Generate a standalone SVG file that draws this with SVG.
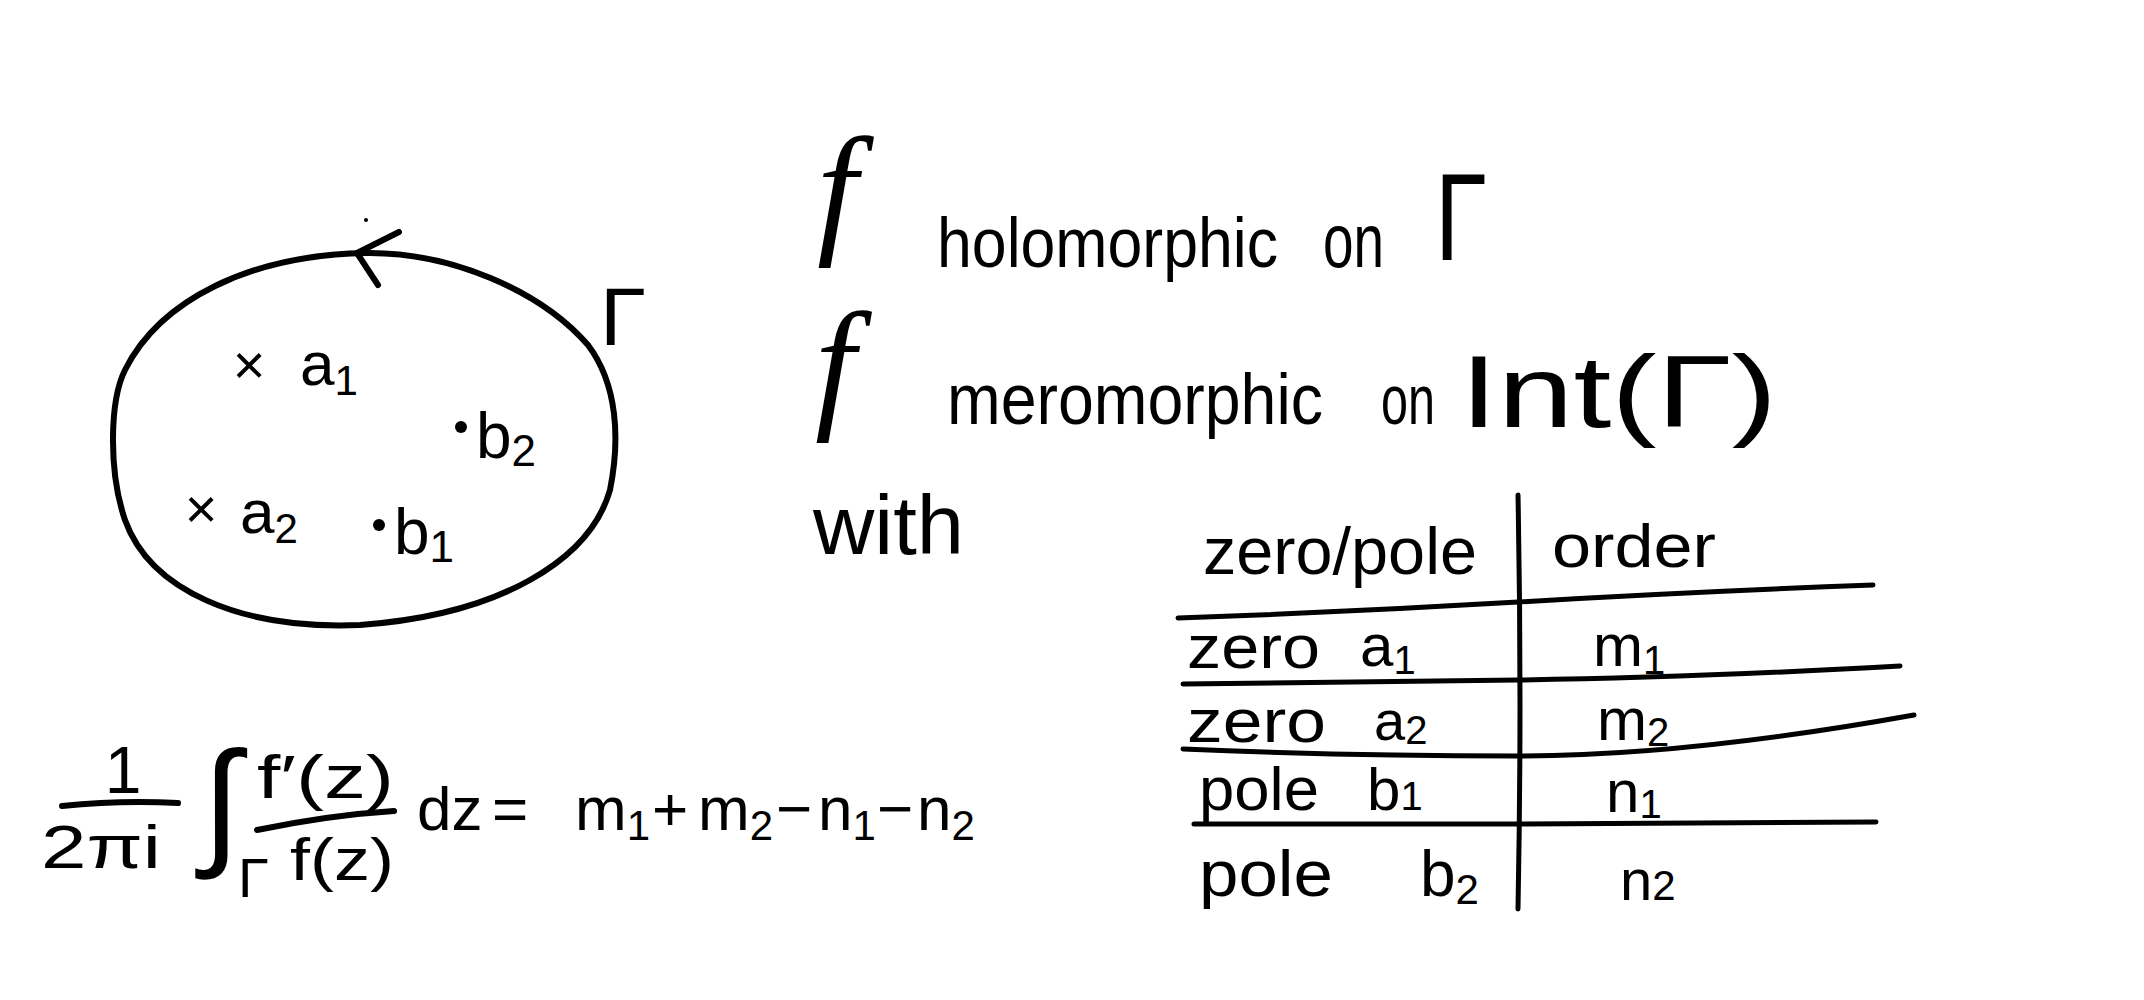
<svg xmlns="http://www.w3.org/2000/svg" width="2144" height="1000" viewBox="0 0 2144 1000">
<style>
.t{font-family:"Liberation Sans",Arial,sans-serif;fill:#000}
.fi{font-family:"Liberation Serif","Times New Roman",serif;font-style:italic;fill:#000}
.ln{fill:none;stroke:#000;stroke-width:6;stroke-linecap:round;stroke-linejoin:round}
.tl{fill:none;stroke:#000;stroke-width:5;stroke-linecap:round;stroke-linejoin:round}
</style>
<rect width="2144" height="1000" fill="#fff"/>
<g id="contour">
<path class="ln" d="M366,253 C450,252 540,290 588,345 C618,385 620,440 610,490 C590,560 500,615 360,625 C240,630 150,590 125,520 C108,470 110,400 125,370 C160,300 250,255 366,253 Z"/>
<path class="ln" d="M399,232 L357,253 L378,285"/>
<circle cx="366" cy="220" r="2" fill="#000"/>
<text class="t" x="600" y="345" font-size="82" textLength="46" lengthAdjust="spacingAndGlyphs">Γ</text>
</g>
<g id="point-a1">
<text class="t" x="249" y="384" font-size="56" text-anchor="middle">×</text>
<text class="t" x="300" y="385" font-size="62">a<tspan font-size="42" dy="10">1</tspan></text>
</g>
<g id="point-b2">
<circle cx="461" cy="427" r="6" fill="#000"/>
<text class="t" x="476" y="458" font-size="64">b<tspan font-size="44" dy="8">2</tspan></text>
</g>
<g id="point-a2">
<text class="t" x="201" y="528" font-size="56" text-anchor="middle">×</text>
<text class="t" x="240" y="533" font-size="62">a<tspan font-size="42" dy="10">2</tspan></text>
</g>
<g id="point-b1">
<circle cx="379" cy="525" r="6" fill="#000"/>
<text class="t" x="394" y="554" font-size="64">b<tspan font-size="44" dy="8">1</tspan></text>
</g>
<g id="line-holomorphic">
<text class="fi" x="817" y="237" font-size="145">f</text>
<text class="t" x="937" y="267" font-size="70" textLength="341" lengthAdjust="spacingAndGlyphs">holomorphic</text>
<text class="t" x="1323" y="267" font-size="76" textLength="61" lengthAdjust="spacingAndGlyphs">on</text>
<text class="t" x="1435" y="260" font-size="124" textLength="52" lengthAdjust="spacingAndGlyphs">Γ</text>
</g>
<g id="line-meromorphic">
<text class="fi" x="815" y="412" font-size="145">f</text>
<text class="t" x="947" y="424" font-size="72" textLength="376" lengthAdjust="spacingAndGlyphs">meromorphic</text>
<text class="t" x="1381" y="424" font-size="70" textLength="54" lengthAdjust="spacingAndGlyphs">on</text>
<text class="t" x="1460" y="427" font-size="102" textLength="317" lengthAdjust="spacingAndGlyphs">Int(Γ)</text>
</g>
<g id="line-with">
<text class="t" x="813" y="554" font-size="84" textLength="151" lengthAdjust="spacingAndGlyphs">with</text>
</g>
<g id="table">
<g id="table-lines">
<path class="tl" d="M1518,495 Q1522,700 1518,909"/>
<path class="tl" d="M1178,618 Q1350,612 1518,602 T1873,585"/>
<path class="tl" d="M1183,684 Q1350,682 1518,680 T1900,666"/>
<path class="tl" d="M1183,749 Q1350,756 1518,756 T1914,715"/>
<path class="tl" d="M1194,824 L1518,824 L1876,822"/>
</g>
<g id="row-header">
<text class="t" x="1203" y="574" font-size="66" textLength="274" lengthAdjust="spacingAndGlyphs">zero/pole</text>
<text class="t" x="1552" y="567" font-size="62" textLength="164" lengthAdjust="spacingAndGlyphs">order</text>
</g>
<g id="row-a1">
<text class="t" x="1187" y="668" font-size="62" textLength="133" lengthAdjust="spacingAndGlyphs">zero</text>
<text class="t" x="1360" y="666" font-size="60">a<tspan font-size="40" dy="8">1</tspan></text>
<text class="t" x="1593" y="666" font-size="60">m<tspan font-size="40" dy="8">1</tspan></text>
</g>
<g id="row-a2">
<text class="t" x="1187" y="742" font-size="62" textLength="139" lengthAdjust="spacingAndGlyphs">zero</text>
<text class="t" x="1374" y="740" font-size="56">a<tspan font-size="40" dy="4">2</tspan></text>
<text class="t" x="1597" y="740" font-size="60">m<tspan font-size="40" dy="6">2</tspan></text>
</g>
<g id="row-b1">
<text class="t" x="1199" y="810" font-size="62" textLength="120" lengthAdjust="spacingAndGlyphs">pole</text>
<text class="t" x="1367" y="810" font-size="60">b<tspan font-size="40">1</tspan></text>
<text class="t" x="1606" y="812" font-size="60">n<tspan font-size="40" dy="6">1</tspan></text>
</g>
<g id="row-b2">
<text class="t" x="1199" y="896" font-size="64" textLength="134" lengthAdjust="spacingAndGlyphs">pole</text>
<text class="t" x="1420" y="896" font-size="64">b<tspan font-size="42" dy="8">2</tspan></text>
<text class="t" x="1620" y="900" font-size="58">n<tspan font-size="42">2</tspan></text>
</g>
</g>
<g id="formula">
<text class="t" x="123" y="793" font-size="66" text-anchor="middle">1</text>
<path class="ln" d="M62,806 Q120,800 178,803"/>
<text class="t" x="41" y="868" font-size="62" textLength="120" lengthAdjust="spacingAndGlyphs">2πi</text>
<text class="t" x="202" y="850" font-size="140">∫</text>
<text class="t" x="238" y="897" font-size="56">Γ</text>
<text class="t" x="257" y="798" font-size="62" textLength="137" lengthAdjust="spacingAndGlyphs">f′(z)</text>
<path class="ln" d="M257,830 Q330,815 394,811"/>
<text class="t" x="290" y="880" font-size="60" textLength="104" lengthAdjust="spacingAndGlyphs">f(z)</text>
<text class="t" y="830" font-size="62"><tspan x="417">dz</tspan><tspan x="492">=</tspan><tspan x="575">m</tspan><tspan font-size="42" dy="10">1</tspan><tspan x="652" dy="-10">+</tspan><tspan x="698">m</tspan><tspan font-size="42" dy="10">2</tspan><tspan x="776" dy="-10">−</tspan><tspan x="818">n</tspan><tspan font-size="42" dy="10">1</tspan><tspan x="877" dy="-10">−</tspan><tspan x="917">n</tspan><tspan font-size="42" dy="10">2</tspan></text>
</g>
</svg>
